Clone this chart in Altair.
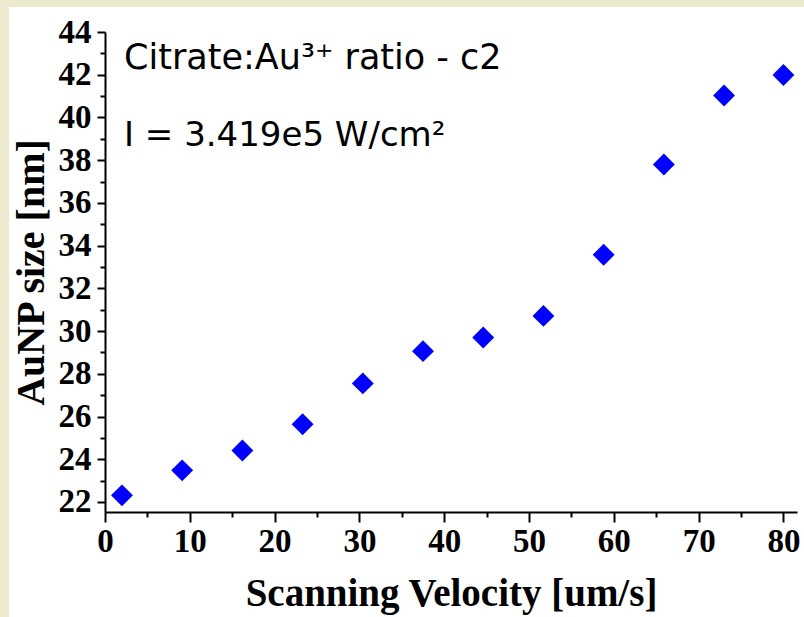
import altair as alt
import pandas as pd

# Scanning velocity (um/s) and measured AuNP size (nm)
velocity = [2.0, 9.1, 16.2, 23.3, 30.4, 37.5, 44.6, 51.7, 58.8, 65.9, 73.0, 80.0]
size_nm = [22.31, 23.48, 24.41, 25.64, 27.55, 29.06, 29.70, 30.71, 33.57, 37.80, 41.03, 41.99]

x_major = [0, 10, 20, 30, 40, 50, 60, 70, 80]
x_minor = [5, 15, 25, 35, 45, 55, 65, 75]
y_major = [22, 24, 26, 28, 30, 32, 34, 36, 38, 40, 42, 44]
y_minor = [23, 25, 27, 29, 31, 33, 35, 37, 39, 41, 43]

note_ratio = "Citrate:Au³⁺ ratio - c2"
note_intensity = "I = 3.419e5 W/cm²"

df = pd.DataFrame({"velocity": velocity, "size": size_nm})
one = pd.DataFrame({"k": [0]})

W, H = 692, 480
SERIF = "Liberation Serif"
SANS = "DejaVu Sans"

xs = alt.Scale(domain=[0, 81.6], nice=False, zero=False)
ys = alt.Scale(domain=[21.53, 44], nice=False, zero=False)

common = dict(domainColor="black", domainWidth=2, tickColor="black", tickWidth=2,
              grid=False, zindex=1, labelColor="black", titleColor="black")

x_axis = alt.Axis(values=x_major, tickSize=10, labelFont=SERIF, labelFontWeight="bold",
                  labelFontSize=33, labelPadding=3, labelFlush=False, labelOverlap=False,
                  title="Scanning Velocity [um/s]", titleFont=SERIF, titleFontWeight="bold",
                  titleFontSize=39, titlePadding=16, orient="bottom", **common)
y_axis = alt.Axis(values=y_major, tickSize=8, labelFont=SERIF, labelFontWeight="bold",
                  labelFontSize=33, labelPadding=6, labelFlush=False, labelOverlap=False,
                  title="AuNP size [nm]", titleFont=SERIF, titleFontWeight="bold",
                  titleFontSize=40, titlePadding=7, orient="left", **common)

x_minor_axis = alt.Axis(values=x_minor, tickSize=5, labels=False, domain=False, title=None,
                        orient="bottom", tickColor="black", tickWidth=2, grid=False, zindex=1)
y_minor_axis = alt.Axis(values=y_minor, tickSize=5, labels=False, domain=False, title=None,
                        orient="left", tickColor="black", tickWidth=2, grid=False, zindex=1)

# white slide panel behind the figure
panel = alt.Chart(one).mark_rect(color="white").encode(
    x=alt.value(-96), x2=alt.value(W + 7), y=alt.value(-25), y2=alt.value(H + 105)
)

points = alt.Chart(df).mark_point(shape="diamond", filled=True, size=480,
                                  color="#0000FF", opacity=1).encode(
    x=alt.X("velocity:Q", scale=xs, axis=x_axis),
    y=alt.Y("size:Q", scale=ys, axis=y_axis),
)

minor = alt.Chart(df).mark_point(opacity=0).encode(
    x=alt.X("velocity:Q", scale=xs, axis=x_minor_axis),
    y=alt.Y("size:Q", scale=ys, axis=y_minor_axis),
)

label1 = alt.Chart(one).mark_text(text=note_ratio, font=SANS, fontSize=35, align="left",
                                  baseline="alphabetic", color="black").encode(
    x=alt.value(19), y=alt.value(37)
)
label2 = alt.Chart(one).mark_text(text=note_intensity, font=SANS, fontSize=34, align="left",
                                  baseline="alphabetic", color="black").encode(
    x=alt.value(19), y=alt.value(114)
)

chart = alt.layer(panel, points, minor, label1, label2).resolve_axis(
    x="independent", y="independent"
).properties(
    width=W, height=H,
    autosize=alt.AutoSizeParams(type="none"),
    padding={"left": 105, "top": 32, "right": 7, "bottom": 105},
    background="#ECE9CF",
).configure_view(stroke=None)

chart.save("out.html", embed_options={"renderer": "svg", "actions": False})
